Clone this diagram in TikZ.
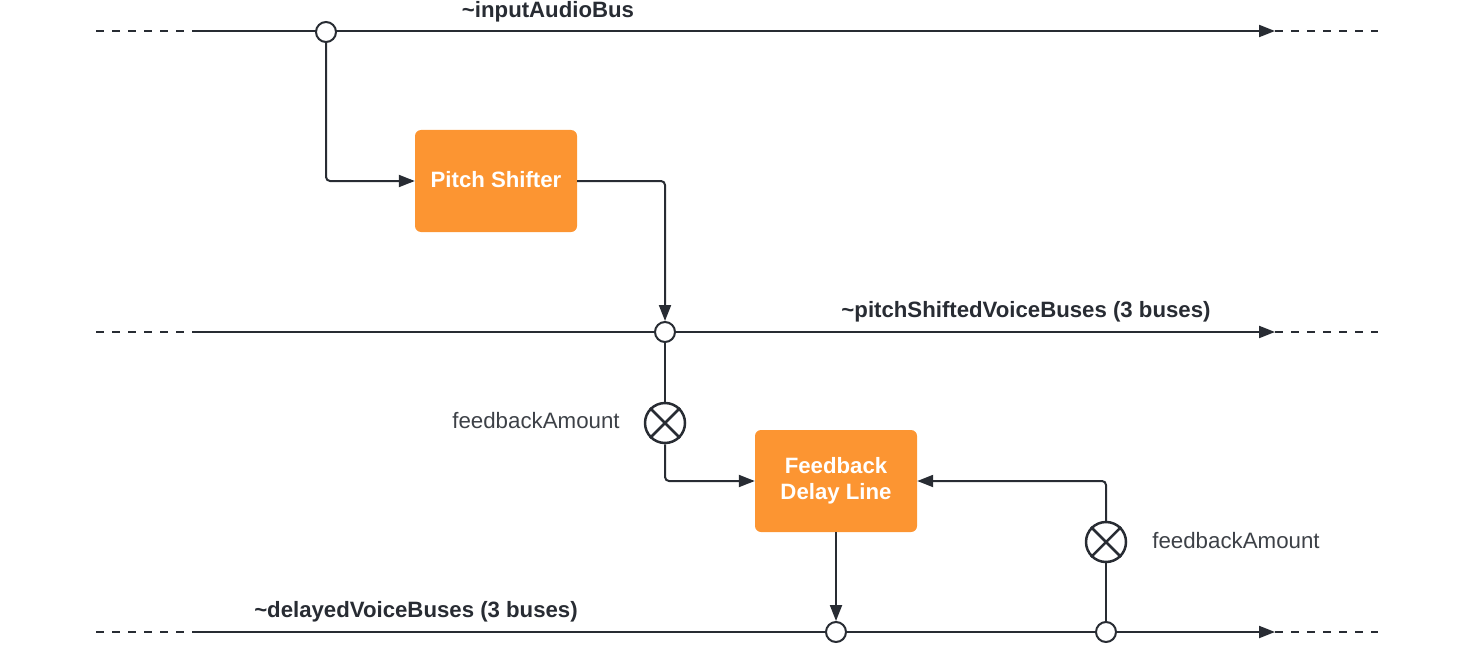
\documentclass[tikz,border=0pt]{standalone}
\usepackage{fontspec}
\setmainfont{Liberation Sans}
\usetikzlibrary{arrows.meta}
\definecolor{ln}{HTML}{282C33}
\definecolor{og}{HTML}{FC9532}
\begin{document}
\begin{tikzpicture}[x=1pt,y=-1pt,
  wire/.style={draw=ln,line width=2pt},
  arr/.style={wire,-{Triangle[length=16pt,width=12pt]},rounded corners=4pt},
  dash8/.style={draw=ln,line width=2pt,dash pattern=on 8pt off 8pt},
  junc/.style={circle,draw=ln,fill=white,line width=2pt,minimum size=20pt,inner sep=0pt},
  mult/.style={circle,draw=ln,fill=white,line width=2.5pt,minimum size=40pt,inner sep=0pt},
  block/.style={fill=og,rounded corners=6pt,minimum width=162pt,minimum height=102pt,text=white,font=\fontsize{22.2}{26}\selectfont\bfseries,align=center,inner sep=0pt},
  lbl/.style={text=ln,font=\fontsize{22.2}{26}\selectfont\bfseries,inner sep=0pt},
  flbl/.style={text=ln!90,font=\fontsize{22.3}{26}\selectfont,inner sep=0pt}]
\useasboundingbox (0,0) rectangle (1474,650);

% bus endpoints
\coordinate (a0) at (96,31);  \coordinate (a1) at (195,31);
\coordinate (a2) at (1275,31); \coordinate (a3) at (1378,31);
\coordinate (b0) at (96,332);  \coordinate (b1) at (195,332);
\coordinate (b2) at (1275,332); \coordinate (b3) at (1378,332);
\coordinate (c0) at (96,632);  \coordinate (c1) at (195,632);
\coordinate (c2) at (1275,632); \coordinate (c3) at (1378,632);

% dashed continuations
\draw[dash8] (a0) -- (a1);
\draw[dash8] (a2) -- (a3);
\draw[dash8] (b0) -- (b1);
\draw[dash8] (b2) -- (b3);
\draw[dash8] (c0) -- (c1);
\draw[dash8] (c2) -- (c3);

% main bus lines
\draw[arr] (a1) -- (a2);
\draw[arr] (b1) -- (b2);
\draw[arr] (c1) -- (c2);

% blocks
\node[block] (ps) at (496,181) {\raisebox{4pt}{Pitch Shifter}};
\node[block] (fd) at (836,481) {Feedback\\Delay Line};

% junctions
\node[junc] (j1) at (326,32) {};
\node[junc] (j2) at (665,332) {};
\node[junc] (j3) at (836,632) {};
\node[junc] (j4) at (1106,632) {};

% multipliers
\node[mult] (m1) at (665,423) {};
\draw[ln,line width=2.5pt] (m1.45) -- (m1.225) (m1.135) -- (m1.315);
\node[mult] (m2) at (1106,542) {};
\draw[ln,line width=2.5pt] (m2.45) -- (m2.225) (m2.135) -- (m2.315);

% connectors
\draw[arr] (j1.south) |- (ps.west);
\draw[arr] (ps.east) -| (j2.north);
\draw[wire] (j2.south) -- (m1.north);
\draw[arr] (m1.south) |- (fd.west);
\draw[arr] (fd.south) -- (j3.north);
\draw[wire] (j4.north) -- (m2.south);
\draw[arr] (m2.north) |- (fd.east);

% labels
\node[lbl] (la) at (548,12) {\textasciitilde inputAudioBus};
\node[lbl] (lb) at (1026,312) {\textasciitilde pitchShiftedVoiceBuses (3 buses)};
\node[lbl] (lc) at (416,612) {\textasciitilde delayedVoiceBuses (3 buses)};
\node[flbl] (f1) at (536,421) {feedbackAmount};
\node[flbl] (f2) at (1236,541) {feedbackAmount};
\end{tikzpicture}
\end{document}
